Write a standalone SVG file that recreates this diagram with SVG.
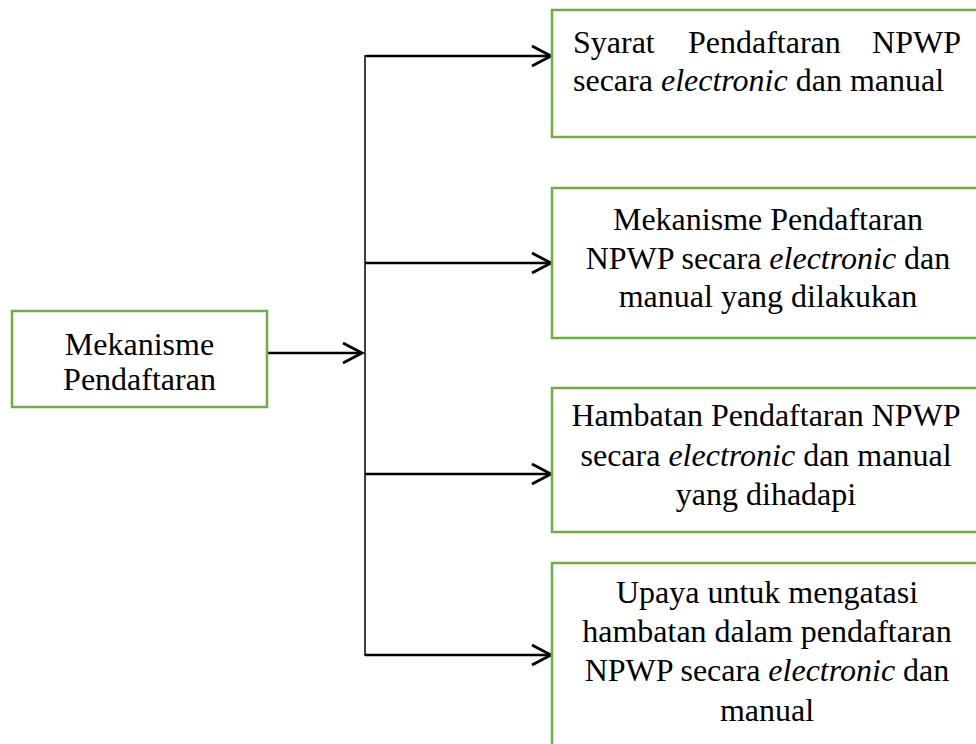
<svg xmlns="http://www.w3.org/2000/svg" width="976" height="744" viewBox="0 0 976 744">
<style>
.box{fill:#ffffff;stroke:#70AD47;stroke-width:2.5}
.t{font-family:"Liberation Serif","Times New Roman",serif;font-size:32px;fill:#000}
.c{text-anchor:middle}
.conn{stroke:#000;stroke-width:2.4;fill:none}
.vline{stroke:#000;stroke-width:1.5;fill:none}
</style>
<defs>
<marker id="arr" markerUnits="userSpaceOnUse" markerWidth="26" markerHeight="26" refX="21" refY="13" orient="auto" viewBox="0 0 26 26">
<path d="M2,3 L21,13 L2,23" fill="none" stroke="#000" stroke-width="2.8"/>
</marker>
</defs>
<g id="connectors">
<line class="vline" x1="365" y1="55" x2="365" y2="656"/>
<line class="conn" x1="267" y1="353" x2="362" y2="353" marker-end="url(#arr)"/>
<line class="conn" x1="366" y1="56" x2="551" y2="56" marker-end="url(#arr)"/>
<line class="conn" x1="365" y1="263" x2="551" y2="263" marker-end="url(#arr)"/>
<line class="conn" x1="365" y1="474" x2="551" y2="474" marker-end="url(#arr)"/>
<line class="conn" x1="365" y1="655" x2="551" y2="655" marker-end="url(#arr)"/>
</g>
<g id="node-main">
<rect class="box" x="12" y="311" width="255" height="96"/>
<text class="t c" x="139.5" y="355">Mekanisme</text>
<text class="t c" x="139.5" y="390">Pendaftaran</text>
</g>
<g id="node-syarat">
<rect class="box" x="552" y="10" width="440" height="127"/>
<text class="t" x="573" y="53">Syarat</text>
<text class="t" x="688" y="53">Pendaftaran</text>
<text class="t" x="961" y="53" text-anchor="end">NPWP</text>
<text class="t" x="573" y="91">secara <tspan font-style="italic">electronic</tspan> dan manual</text>
</g>
<g id="node-mekanisme">
<rect class="box" x="552" y="188" width="440" height="150"/>
<text class="t c" x="768" y="230">Mekanisme Pendaftaran</text>
<text class="t c" x="768" y="269">NPWP secara <tspan font-style="italic">electronic</tspan> dan</text>
<text class="t c" x="768" y="307">manual yang dilakukan</text>
</g>
<g id="node-hambatan">
<rect class="box" x="552" y="388" width="440" height="144"/>
<text class="t c" x="766" y="426">Hambatan Pendaftaran NPWP</text>
<text class="t c" x="766" y="466">secara <tspan font-style="italic">electronic</tspan> dan manual</text>
<text class="t c" x="766" y="505">yang dihadapi</text>
</g>
<g id="node-upaya">
<rect class="box" x="552" y="563" width="440" height="200"/>
<text class="t c" x="767" y="603">Upaya untuk mengatasi</text>
<text class="t c" x="767" y="642">hambatan dalam pendaftaran</text>
<text class="t c" x="767" y="681">NPWP secara <tspan font-style="italic">electronic</tspan> dan</text>
<text class="t c" x="767" y="721">manual</text>
</g>
</svg>
